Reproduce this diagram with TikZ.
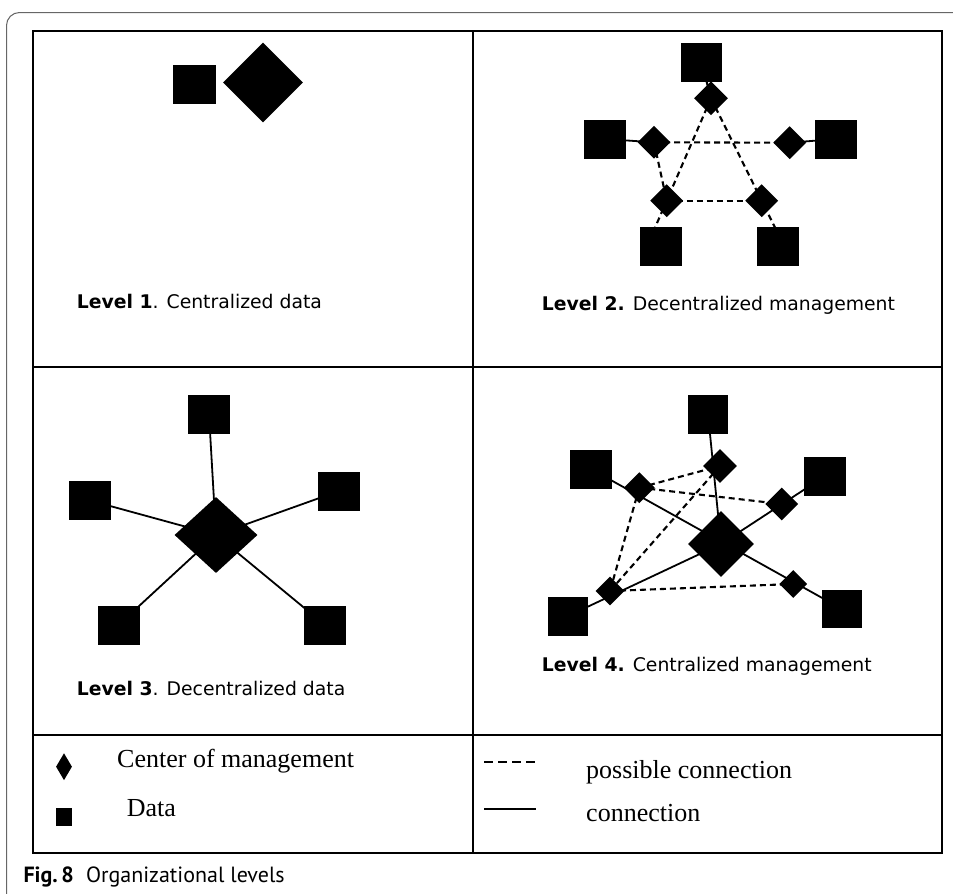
\documentclass[tikz,border=0pt]{standalone}
\usepackage{fontspec}
\setmainfont{Liberation Serif}
\newfontfamily\lvlfont{DejaVu Sans}
\newfontfamily\capfont{PT Sans}
\usetikzlibrary{shapes.geometric,backgrounds,calc}
\begin{document}
\begin{tikzpicture}[x=1pt,y=-1pt,
  sq/.style={rectangle,fill=black,inner sep=0,minimum width=42,minimum height=39},
  dia/.style={diamond,aspect=1,fill=black,inner sep=0,minimum width=#1,minimum height=#1},
  conn/.style={line width=1.8pt},
  pconn/.style={line width=2.1pt,dash pattern=on 6pt off 4pt},
  gridline/.style={line width=2pt},
  lvl/.style={anchor=base west,inner sep=0,font=\lvlfont\fontsize{18.8}{22}\selectfont},
  leg/.style={anchor=base west,inner sep=0,font=\fontsize{26}{30}\selectfont},
]
\useasboundingbox (0,0) rectangle (953,894);
% page frame
\draw[gray!80!black,line width=1pt,rounded corners=13pt] (953,12.5) -- (6.5,12.5) -- (6.5,894);
% table
\draw[gridline] (32.5,30.5) rectangle (942,853);
\draw[gridline] (473,30.5) -- (473,853);
\draw[gridline] (32.5,366.7) -- (942,366.7);
\draw[gridline] (32.5,735) -- (942,735);

% Level 1
\node[sq,minimum width=43] (s1) at (194.5,84.5) {};
\node[dia=80] (d1) at (263,82.5) {};
\node[lvl] (l1) at (76.7,308.3) {\textbf{Level 1}. Centralized data};

% Level 2
\node[sq,minimum width=41] (t2s) at (701.5,62) {};
\node[dia=34] (t2d) at (711,98.3) {};
\node[sq] (l2s) at (605,139) {};
\node[dia=33] (l2d) at (654,142.3) {};
\node[dia=33] (r2d) at (789.7,142.7) {};
\node[sq] (r2s) at (836,139) {};
\node[dia=33] (bl2d) at (666.7,200.7) {};
\node[dia=33] (br2d) at (761.7,200.7) {};
\node[sq] (bl2s) at (661,246.3) {};
\node[sq] (br2s) at (777.5,246.3) {};
\node[lvl] (l2) at (541.7,310.7) {\textbf{Level 2.} Decentralized management};
\begin{scope}[on background layer]
  \draw[pconn] (t2s.center) -- (t2d.center);
  \draw[pconn] (t2d.center) -- ($(t2d.center)!1.3!(bl2d.center)$);
  \draw[pconn] (t2d.center) -- ($(t2d.center)!1.3!(br2d.center)$);
  \draw[pconn] (l2d.center) -- (r2d.center);
  \draw[pconn] (l2d.center) -- (bl2d.center);
  \draw[pconn] (bl2d.center) -- (br2d.center);
  \draw[conn] (l2s.center) -- (l2d.center);
  \draw[conn] (r2d.center) -- (r2s.center);
\end{scope}

% Level 3
\node[sq] (t3s) at (209,414) {};
\node[sq] (l3s) at (90,500.5) {};
\node[sq] (r3s) at (339,491) {};
\node[sq] (bl3s) at (118.5,625) {};
\node[sq] (br3s) at (325,625) {};
\node[diamond,fill=black,inner sep=0,minimum width=83,minimum height=76] (c3d) at (216,535) {};
\node[lvl] (l3) at (76.7,695) {\textbf{Level 3}. Decentralized data};
\begin{scope}[on background layer]
  \foreach \n in {t3s,l3s,r3s,bl3s,br3s} \draw[conn] (\n.center) -- (c3d.center);
\end{scope}

% Level 4
\node[sq,minimum width=40] (t4s) at (708,414) {};
\node[dia=34] (t4d) at (720,466) {};
\node[sq] (l4s) at (591,469) {};
\node[dia=31] (l4d) at (639.3,487.7) {};
\node[sq] (r4s) at (825,476) {};
\node[dia=33] (r4d) at (781.7,504) {};
\node[dia=66] (c4d) at (721,544) {};
\node[dia=28] (br4d) at (793.3,584) {};
\node[sq,minimum width=40,minimum height=38] (br4s) at (842,609) {};
\node[dia=29] (bl4d) at (610,591) {};
\node[sq,minimum width=40] (bl4s) at (568,616) {};
\node[lvl] (l4) at (541.7,671) {\textbf{Level 4.} Centralized management};
\begin{scope}[on background layer]
  \draw[conn] (t4s.center) -- (c4d.center);
  \draw[conn] (l4s.center) -- (br4s.center);
  \draw[conn] (bl4s.center) -- (c4d.center);
  \draw[conn] (c4d.center) -- (r4s.center);
  \draw[pconn] (l4d.center) -- (t4d.center);
  \draw[pconn] (l4d.center) -- (r4d.center);
  \draw[pconn] (l4d.center) -- (bl4d.center);
  \draw[pconn] (t4d.center) -- (bl4d.center);
  \draw[pconn] (bl4d.center) -- (br4d.center);
\end{scope}

% Legend
\node[diamond,fill=black,inner sep=0,minimum width=16,minimum height=27] (legd) at (64,766.7) {};
\node[rectangle,fill=black,inner sep=0,minimum width=16,minimum height=18] (legs) at (64,817) {};
\node[leg] (legdt) at (117,767.7) {Center of management};
\node[leg] (legst) at (126.7,816) {Data};
\coordinate (pa) at (484,761.7);
\coordinate (pb) at (536,761.7);
\coordinate (ca) at (484,809);
\coordinate (cb) at (536,809);
\draw[line width=1.6pt,dash pattern=on 9pt off 5pt] (pa) -- (pb);
\draw[line width=1.6pt] (ca) -- (cb);
\node[leg] (legpt) at (586,778.3) {possible connection};
\node[leg] (legct) at (586,821) {connection};

% caption
\node[anchor=base west,inner sep=0,font=\capfont\fontsize{22}{26}\selectfont] (cap) at (23.3,882.3) {\textbf{Fig.\,8}\hspace{0.55em}Organizational levels};
\end{tikzpicture}
\end{document}
